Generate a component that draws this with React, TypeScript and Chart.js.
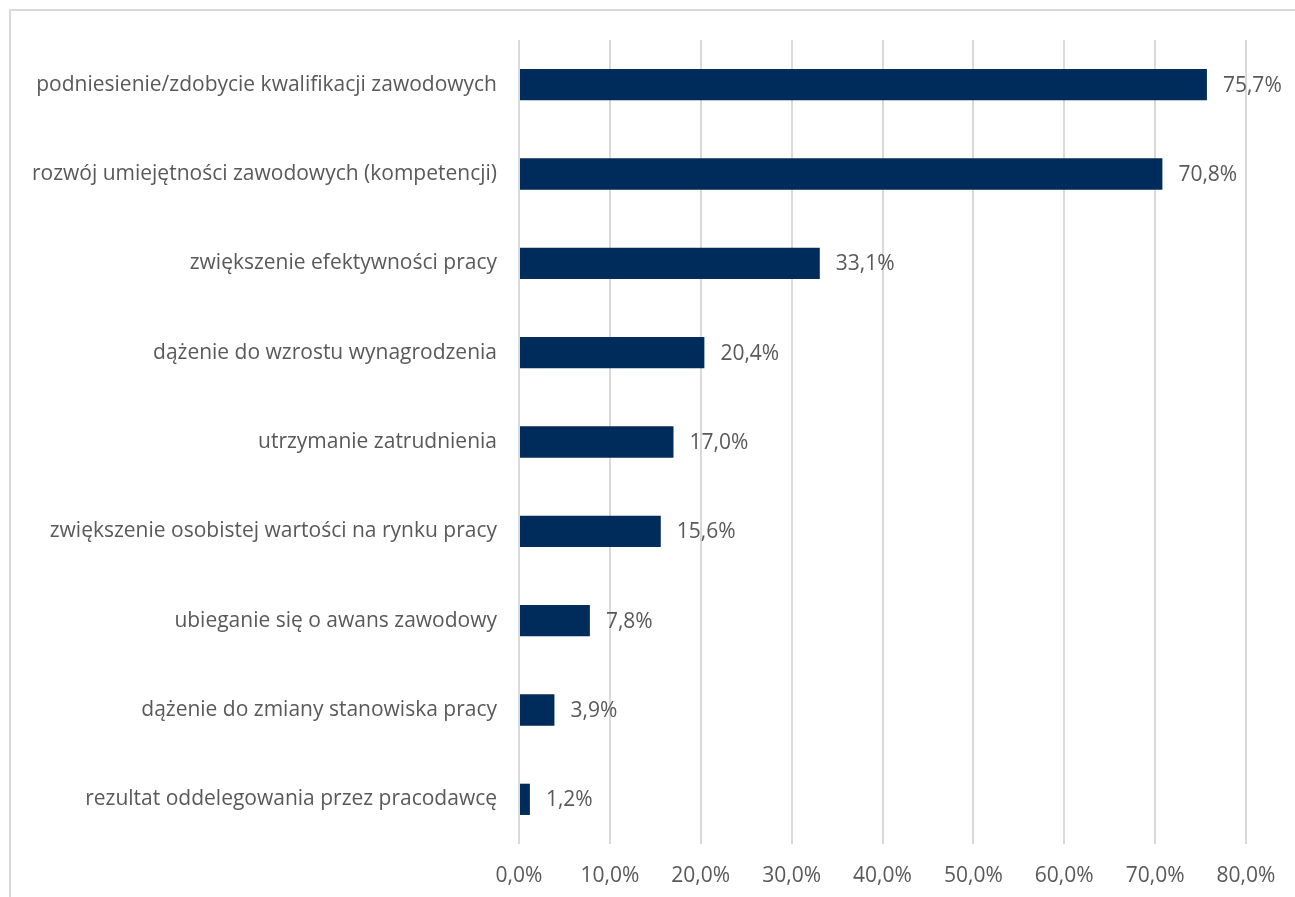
import React, { useEffect, useRef } from "react";
import { Chart, registerables } from "chart.js";

Chart.register(...registerables);

const categories: string[] = [
  "podniesienie/zdobycie kwalifikacji zawodowych",
  "rozwój umiejętności zawodowych (kompetencji)",
  "zwiększenie efektywności pracy",
  "dążenie do wzrostu wynagrodzenia",
  "utrzymanie zatrudnienia",
  "zwiększenie osobistej wartości na rynku pracy",
  "ubieganie się o awans zawodowy",
  "dążenie do zmiany stanowiska pracy",
  "rezultat oddelegowania przez pracodawcę",
];

const values: number[] = [75.7, 70.8, 33.1, 20.4, 17.0, 15.6, 7.8, 3.9, 1.2];

const xMin = 0;
const xMax = 80;
const xStep = 10;

const FONT = "'Open Sans'";
const FONT_SIZE = 21;
const TEXT_COLOR = "#595959";
const BAR_COLOR = "#002C5B";
const GRID_COLOR = "#D9D9D9";

const fmt = (v: number) => v.toFixed(1).replace(".", ",") + "%";

const valueLabels = {
  id: "valueLabels",
  afterDatasetsDraw(chart: any) {
    const ctx = chart.ctx;
    const meta = chart.getDatasetMeta(0);
    ctx.save();
    ctx.font = `${FONT_SIZE}px ${FONT}`;
    ctx.fillStyle = TEXT_COLOR;
    ctx.textAlign = "left";
    ctx.textBaseline = "middle";
    meta.data.forEach((bar: any, i: number) => {
      ctx.fillText(fmt(values[i]), bar.x + 16, bar.y + 1);
    });
    ctx.restore();
  },
};

export default function App() {
  const ref = useRef<HTMLCanvasElement | null>(null);

  useEffect(() => {
    if (!ref.current) return;
    const chart = new Chart(ref.current, {
      type: "bar",
      data: {
        labels: categories,
        datasets: [
          {
            data: values,
            backgroundColor: BAR_COLOR,
            barPercentage: 0.35,
            categoryPercentage: 1,
          },
        ],
      },
      options: {
        indexAxis: "y",
        animation: false,
        responsive: false,
        maintainAspectRatio: false,
        layout: { padding: { top: 40, right: 49, left: 0, bottom: 0 } },
        plugins: {
          legend: { display: false },
          tooltip: { enabled: false },
        },
        scales: {
          x: {
            min: xMin,
            max: xMax,
            ticks: {
              stepSize: xStep,
              callback: (v: any) => fmt(Number(v)),
              color: TEXT_COLOR,
              font: { family: FONT, size: FONT_SIZE },
              padding: 19,
              maxRotation: 0,
            },
            grid: { color: GRID_COLOR, lineWidth: 2, drawTicks: false },
            border: { display: false },
            afterFit: (s: any) => {
              s.height = 53;
            },
          },
          y: {
            ticks: {
              color: TEXT_COLOR,
              font: { family: FONT, size: FONT_SIZE },
              padding: 22,
              autoSkip: false,
            },
            grid: { display: false, drawTicks: false },
            border: { display: false },
            afterFit: (s: any) => {
              s.width = 519;
            },
          },
        },
      },
      plugins: [valueLabels],
    });
    return () => chart.destroy();
  }, []);

  return (
    <div style={{ position: "fixed", left: 0, top: 0, width: 1295, height: 897, overflow: "hidden", background: "#fff" }}>
      <div
        style={{
          position: "absolute",
          left: 9,
          top: 9,
          width: 1400,
          height: 1000,
          border: "2px solid #D9D9D9",
        }}
      />
      <canvas ref={ref} width={1295} height={897} style={{ position: "absolute", left: 0, top: 0 }} />
    </div>
  );
}
